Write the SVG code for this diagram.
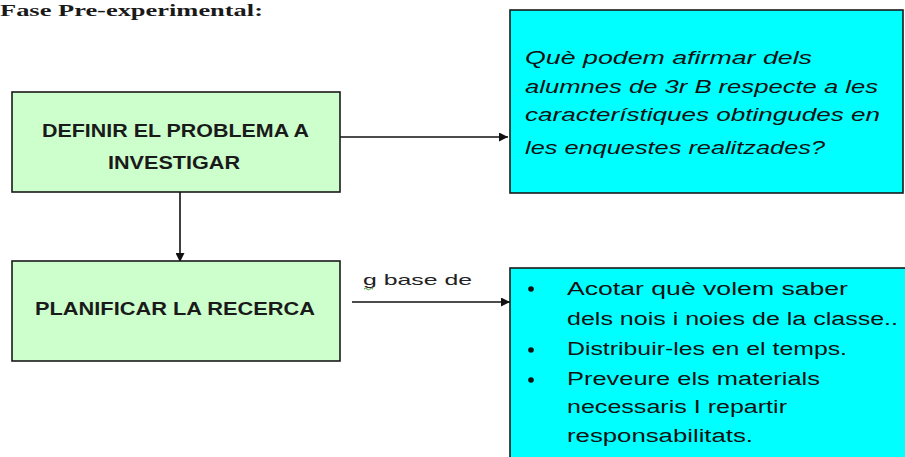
<svg xmlns="http://www.w3.org/2000/svg" width="905" height="457" viewBox="0 0 905 457">
<style>
.box{stroke:#1a1a1a;stroke-width:1.6}
.g{fill:#ccffcc}
.c{fill:#00ffff}
.cap{font-family:"Liberation Sans",Arial,sans-serif;font-weight:bold;font-size:18px;fill:#1a1a1a}
.q{font-family:"Liberation Sans",Arial,sans-serif;font-style:italic;font-size:19px;fill:#111}
.b{font-family:"Liberation Sans",Arial,sans-serif;font-size:18px;fill:#111}
.conn{stroke:#111;stroke-width:1.6;fill:none}
</style>
<defs>
<marker id="ah" viewBox="0 0 10 10" refX="10" refY="5" markerWidth="9" markerHeight="9" markerUnits="userSpaceOnUse" orient="auto">
<path d="M0,0 L10,5 L0,10 z" fill="#111"/>
</marker>
</defs>
<text x="0" y="16" font-family="'Liberation Serif','Times New Roman',serif" font-weight="bold" font-size="17" fill="#1a1a1a" textLength="263" lengthAdjust="spacingAndGlyphs">Fase Pre-experimental:</text>
<g id="connectors">
<line class="conn" x1="340" y1="137" x2="508" y2="137" marker-end="url(#ah)"/>
<line class="conn" x1="180" y1="192" x2="180" y2="262" marker-end="url(#ah)"/>
<line class="conn" x1="352" y1="302" x2="510" y2="302" marker-end="url(#ah)"/>
<text x="363" y="285" font-family="'Liberation Sans',Arial,sans-serif" font-size="15" fill="#222" textLength="109" lengthAdjust="spacingAndGlyphs">g base de</text>
<path d="M364,289 q1.5,-1.5 3,0 t3,0 t3,0" stroke="#3a9a3a" stroke-width="1" fill="none"/>
</g>
<g id="n1">
<rect class="box g" x="12" y="92" width="328" height="100"/>
<text class="cap" x="42" y="137" textLength="267" lengthAdjust="spacingAndGlyphs">DEFINIR EL PROBLEMA A</text>
<text class="cap" x="108" y="169" textLength="132" lengthAdjust="spacingAndGlyphs">INVESTIGAR</text>
</g>
<g id="n2">
<rect class="box c" x="510" y="10" width="393" height="183"/>
<text class="q" x="525" y="64" textLength="287" lengthAdjust="spacingAndGlyphs">Què podem afirmar dels</text>
<text class="q" x="525" y="93" textLength="353" lengthAdjust="spacingAndGlyphs">alumnes de 3r B respecte  a les</text>
<text class="q" x="525" y="121" textLength="355" lengthAdjust="spacingAndGlyphs">característiques  obtingudes en</text>
<text class="q" x="525" y="154" textLength="300" lengthAdjust="spacingAndGlyphs">les enquestes  realitzades?</text>
</g>
<g id="n3">
<rect class="box g" x="12" y="261" width="328" height="100"/>
<text class="cap" x="35" y="315" textLength="280" lengthAdjust="spacingAndGlyphs">PLANIFICAR LA RECERCA</text>
</g>
<g id="n4">
<rect class="box c" x="510" y="268" width="400" height="200"/>
<circle cx="531" cy="289" r="2.8" fill="#111"/>
<circle cx="531" cy="350" r="2.8" fill="#111"/>
<circle cx="531" cy="380" r="2.8" fill="#111"/>
<text class="b" x="567" y="295" textLength="281" lengthAdjust="spacingAndGlyphs">Acotar què volem saber</text>
<text class="b" x="567" y="325" textLength="331" lengthAdjust="spacingAndGlyphs">dels nois i noies de la classe..</text>
<text class="b" x="567" y="355" textLength="280" lengthAdjust="spacingAndGlyphs">Distribuir-les en el temps.</text>
<text class="b" x="567" y="385" textLength="253" lengthAdjust="spacingAndGlyphs">Preveure els materials</text>
<text class="b" x="567" y="413" textLength="220" lengthAdjust="spacingAndGlyphs">necessaris I repartir</text>
<text class="b" x="567" y="442" textLength="186" lengthAdjust="spacingAndGlyphs">responsabilitats.</text>
</g>
</svg>
